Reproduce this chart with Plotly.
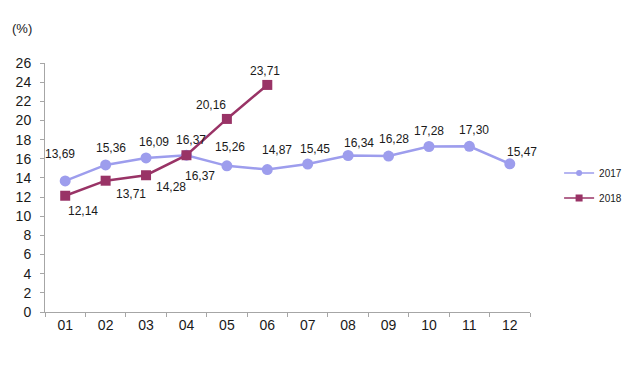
import plotly.graph_objects as go

months = ["01", "02", "03", "04", "05", "06", "07", "08", "09", "10", "11", "12"]
y2017 = [13.69, 15.36, 16.09, 16.37, 15.26, 14.87, 15.45, 16.34, 16.28, 17.28, 17.30, 15.47]
y2018 = [12.14, 13.71, 14.28, 16.37, 20.16, 23.71]

# label offsets (pixels, dx right, dy down) relative to each point
off2017 = [(-5, -27), (5, -17), (8, -16), (14, 21), (3, -19), (10, -20),
           (7, -15), (11, -13), (5, -17), (0, -16), (5, -16), (12, -12)]
off2018 = [(18, 15), (25, 13), (25, 12), (5, -15), (-16, -14), (-2, -14)]

C17 = "#9d9ded"
C18 = "#993366"
AX = "#a6a6a6"
FONT = "Liberation Sans, Arial, sans-serif"

def fmt(v):
    return f"{v:.2f}".replace(".", ",")

fig = go.Figure()
fig.add_trace(go.Scatter(
    x=months, y=y2017, name="2017", mode="lines+markers", showlegend=False,
    line=dict(color=C17, width=2.5),
    marker=dict(symbol="circle", size=11, color=C17),
))
fig.add_trace(go.Scatter(
    x=months[:len(y2018)], y=y2018, name="2018", mode="lines+markers", showlegend=False,
    line=dict(color=C18, width=2.5),
    marker=dict(symbol="square", size=10, color=C18),
))
# legend entries (smaller symbols, as in the reference)
fig.add_trace(go.Scatter(
    x=[None], y=[None], name="2017", mode="lines+markers", legend="legend",
    line=dict(color=C17, width=1.5), marker=dict(symbol="circle", size=6, color=C17),
))
fig.add_trace(go.Scatter(
    x=[None], y=[None], name="2018", mode="lines+markers", legend="legend2",
    line=dict(color=C18, width=1.5), marker=dict(symbol="square", size=7, color=C18),
))

annotations = []
for i, (v, (dx, dy)) in enumerate(zip(y2017, off2017)):
    annotations.append(dict(x=i, y=v, xref="x", yref="y", text=fmt(v), showarrow=False,
                            xshift=dx, yshift=-dy, font=dict(size=12, color="#1a1a1a")))
for i, (v, (dx, dy)) in enumerate(zip(y2018, off2018)):
    annotations.append(dict(x=i, y=v, xref="x", yref="y", text=fmt(v), showarrow=False,
                            xshift=dx, yshift=-dy, font=dict(size=12, color="#1a1a1a")))
annotations.append(dict(text="(%)", xref="paper", yref="paper", x=-0.072, y=1.14,
                        xanchor="left", yanchor="middle", showarrow=False,
                        font=dict(size=13, color="#1a1a1a")))

leg_style = dict(xanchor="left", yanchor="middle", font=dict(size=10, color="#1a1a1a"),
                 bgcolor="rgba(0,0,0,0)")
fig.update_layout(
    width=626, height=376,
    margin=dict(l=45, r=96, t=63, b=64, autoexpand=False),
    plot_bgcolor="white", paper_bgcolor="white",
    font=dict(family=FONT, size=14, color="#1a1a1a"),
    showlegend=True,
    legend=dict(x=1.06, y=0.558, **leg_style),
    legend2=dict(x=1.06, y=0.458, **leg_style),
    annotations=annotations,
)
fig.update_xaxes(
    type="category", showgrid=False, showline=True, linecolor=AX, linewidth=1,
    ticks="outside", tickson="boundaries", ticklen=4, tickcolor=AX,
    tickfont=dict(size=14), range=[-0.5, 11.5], automargin=False, fixedrange=True,
)
fig.update_yaxes(
    range=[0, 26], dtick=2, showgrid=False, showline=True, linecolor=AX, linewidth=1,
    ticks="outside", ticklen=4, tickcolor=AX, tickfont=dict(size=14), zeroline=False,
    automargin=False, fixedrange=True, ticklabelstandoff=6,
)
fig.write_html("out.html", config={"displayModeBar": False},
               post_script="document.body.style.margin='0px';document.body.style.overflow='hidden';")
